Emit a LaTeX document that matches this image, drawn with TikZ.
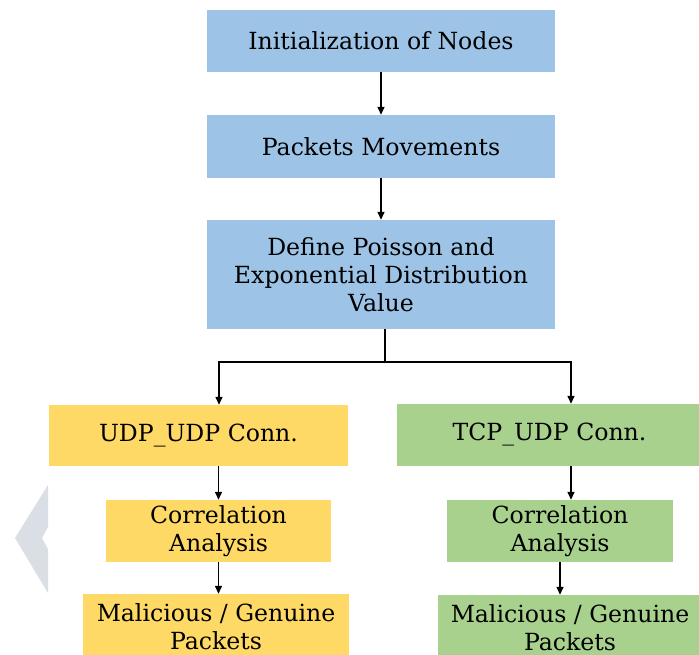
\documentclass[tikz,border=0pt]{standalone}
\usepackage{fontspec}
\setmainfont{DejaVu Serif}
\usetikzlibrary{arrows.meta}
\definecolor{boxblue}{HTML}{9DC3E6}
\definecolor{boxyellow}{HTML}{FFD966}
\definecolor{boxgreen}{HTML}{A9D18E}
\definecolor{chev}{HTML}{D9DFE4}
\begin{document}
\begin{tikzpicture}[x=1pt,y=-1pt,
  box/.style={inner sep=0pt, align=center, font=\fontsize{23.6}{28}\selectfont, text=black},
  blue box/.style={box, fill=boxblue},
  yellow box/.style={box, fill=boxyellow},
  green box/.style={box, fill=boxgreen},
  arr/.style={-{Triangle[length=8pt,width=7pt]}, line width=1.4pt},
  link/.style={line width=1.4pt}]
\clip (0,0) rectangle (699,655);
\fill[white] (0,0) rectangle (699,655);
% decorative chevron
\fill[chev] (48,485) -- (15,538) -- (48,593) -- (48,549) -- (42,538) -- (48,527) -- cycle;
% nodes
\node[blue box, minimum width=348pt, minimum height=62pt] (n1) at (381,41) {Initialization of Nodes};
\node[blue box, minimum width=348pt, minimum height=63pt] (n2) at (381,146.5) {Packets Movements};
\node[blue box, minimum width=348pt, minimum height=109pt] (n3) at (381,274.5) {Define Poisson and\\Exponential Distribution\\Value};
\node[yellow box, minimum width=299pt, minimum height=61pt] (udp) at (198.5,435.5) {UDP\_UDP Conn.};
\node[green box, minimum width=305pt, minimum height=62pt] (tcp) at (549.5,435) {TCP\_UDP Conn.};
\node[yellow box, minimum width=225pt, minimum height=62pt] (corrL) at (218.5,531) {Correlation\\Analysis};
\node[green box, minimum width=226pt, minimum height=62pt] (corrR) at (560,531) {Correlation\\Analysis};
\node[yellow box, minimum width=266pt, minimum height=66pt] (malL) at (216,627) {Malicious / Genuine\\Packets};
\node[green box, minimum width=264pt, minimum height=66pt] (malR) at (570,628) {Malicious / Genuine\\Packets};
% connectors
\draw[arr] (n1.south) -- (n2.north);
\draw[arr] (n2.south) -- (n3.north);
\coordinate (split) at (385,362);
\coordinate (tcpdrop) at ([xshift=21.5pt]tcp.south);
\draw[link] (n3.south -| split) -- (split);
\draw[arr] (split) -| ([xshift=20.5pt]udp.north);
\draw[arr] (split) -| ([xshift=21.5pt]tcp.north);
\draw[arr] (udp.south -| corrL) -- (corrL.north);
\draw[arr] (tcpdrop) -- (corrR.north -| tcpdrop);
\draw[arr] (corrL.south) -- (malL.north -| corrL);
\draw[arr] (corrR.south) -- (malR.north -| corrR);
\end{tikzpicture}
\end{document}
